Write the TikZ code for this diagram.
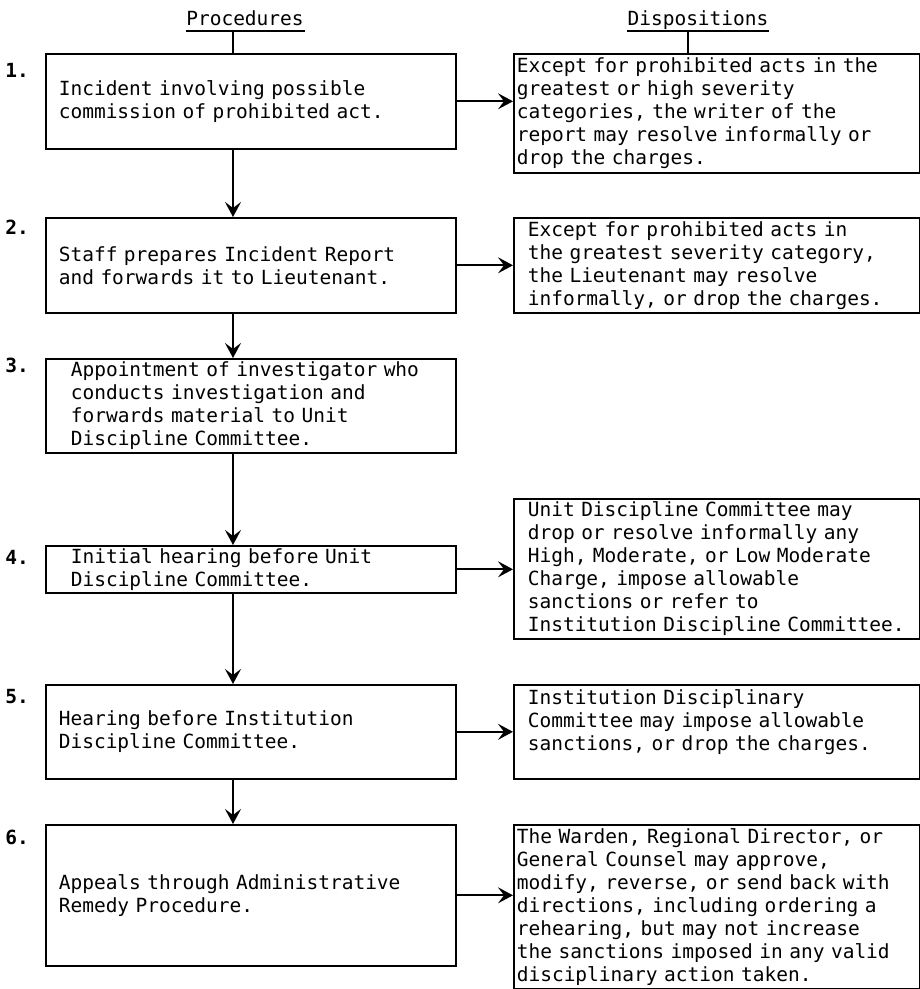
\documentclass[tikz,border=0pt]{standalone}
\usepackage{fontspec}
\setmonofont{DejaVu Sans Mono}
\usepackage{tikz}
\usetikzlibrary{positioning, arrows.meta}
\newcommand\flowfont{\ttfamily\fontsize{19.5}{23}\selectfont}

\begin{document}
\begin{tikzpicture}[x=1pt, y=-1pt, line width=1.6pt,
    every node/.style={font=\flowfont},
    proc/.style={draw, anchor=north west, text width=384pt, inner xsep=13pt, inner ysep=4pt, align=left, execute at begin node=\flowfont},
    disp/.style={draw, anchor=north west, text width=400pt, inner xsep=3pt, inner ysep=4pt, align=left, execute at begin node=\flowfont},
    indent/.style={execute at begin node={\flowfont\leftskip=#1\relax}},
    num/.style={font=\flowfont\bfseries, anchor=east},
    head/.style={anchor=base, inner xsep=0pt, inner ysep=5pt, text depth=0pt},
    arr/.style={line width=1.7pt, -{Stealth[length=15pt, width=16pt, inset=6pt]}}]
    \useasboundingbox (0,0) rectangle (920,989);

    % column headings
    \node[head] (hp) at (245,25) {Procedures};
    \node[head] (hd) at (698,25) {Dispositions};
    \draw (hp.south west) -- (hp.south east);
    \draw (hd.south west) -- (hd.south east);
    \coordinate (stemL) at (233,0);
    \coordinate (stemR) at (688,0);

    % procedures
    \node[proc, minimum height=95pt] (b1) at (45,53) {Incident involving possible\\commission of prohibited act.};
    \node[proc, minimum height=95pt] (b2) at (45,217) {Staff prepares Incident Report\\and forwards it to Lieutenant.};
    \node[proc, indent=12pt, inner ysep=1pt, minimum height=94pt] (b3) at (45,358) {Appointment of investigator who\\conducts investigation and\\forwards material to Unit\\Discipline Committee.};
    \node[proc, indent=12pt, inner ysep=1pt, minimum height=47pt] (b4) at (45,545) {Initial hearing before Unit\\Discipline Committee.};
    \node[proc, minimum height=94pt] (b5) at (45,684) {Hearing before Institution\\Discipline Committee.};
    \node[proc, minimum height=141pt] (b6) at (45,824) {Appeals through Administrative\\Remedy Procedure.};

    % step numbers
    \node[num] (n1) at (33,70) {1.};
    \node[num] (n2) at (33,227) {2.};
    \node[num] (n3) at (33,365) {3.};
    \node[num] (n4) at (33,557) {4.};
    \node[num] (n5) at (33,697) {5.};
    \node[num] (n6) at (33,837) {6.};

    % dispositions
    \node[disp, minimum height=119pt] (d1) at (513,53) {Except for prohibited acts in the\\greatest or high severity\\categories, the writer of the\\report may resolve informally or\\drop the charges.};
    \node[disp, indent=11pt, inner ysep=2pt, minimum height=95pt] (d2) at (513,217) {Except for prohibited acts in\\the greatest severity category,\\the Lieutenant may resolve\\informally, or drop the charges.};
    \node[disp, indent=11pt, inner ysep=1pt, minimum height=140pt] (d4) at (513,498) {Unit Discipline Committee may\\drop or resolve informally any\\High, Moderate, or Low Moderate\\Charge, impose allowable\\sanctions or refer to\\Institution Discipline Committee.};
    \node[disp, indent=11pt, text height=16pt, text depth=70pt] (d5) at (513,684) {Institution Disciplinary\\Committee may impose allowable\\sanctions, or drop the charges.};
    \node[disp, inner ysep=2pt, minimum height=164pt] (d6) at (513,824) {The Warden, Regional Director, or\\General Counsel may approve,\\modify, reverse, or send back with\\directions, including ordering a\\rehearing, but may not increase\\the sanctions imposed in any valid\\disciplinary action taken.};

    % connectors
    \draw (hp.south -| stemL) -- (b1.north -| stemL);
    \draw (hd.south -| stemR) -- (d1.north -| stemR);
    \foreach \a/\b in {b1/b2, b2/b3, b3/b4, b4/b5, b5/b6}
        \draw[arr] (\a.south -| stemL) -- (\b.north -| stemL);
    \foreach \a/\b in {b1/d1, b2/d2, b4/d4, b5/d5, b6/d6}
        \draw[arr] (\a.east) -- (\a.east -| \b.west);
\end{tikzpicture}
\end{document}
